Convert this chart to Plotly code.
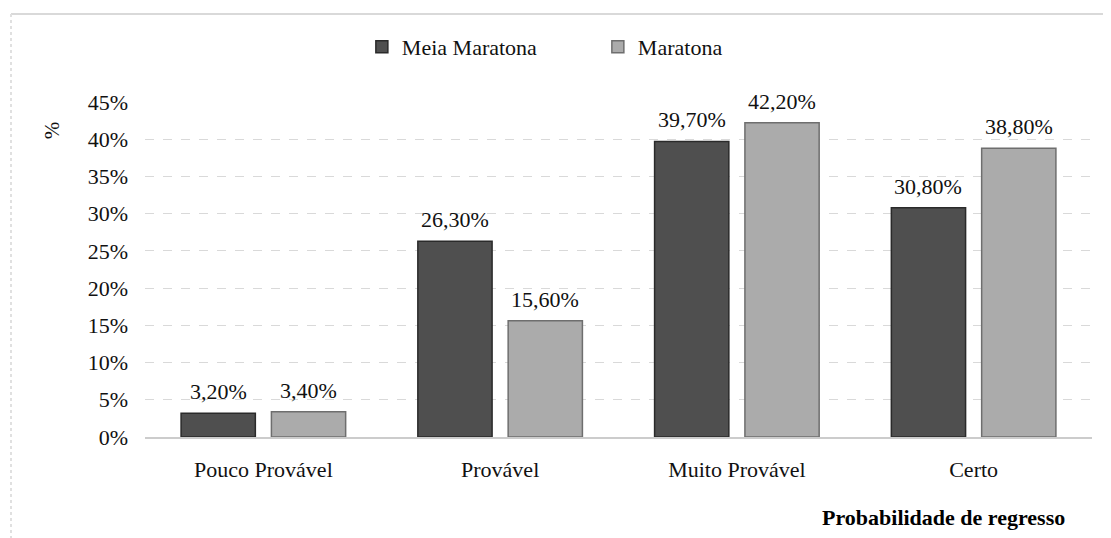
import plotly.graph_objects as go

categories = ["Pouco Provável", "Provável", "Muito Provável", "Certo"]
meia_maratona = [3.2, 26.3, 39.7, 30.8]
maratona = [3.4, 15.6, 42.2, 38.8]
series_names = ["Meia Maratona", "Maratona"]
y_ticks = [0, 5, 10, 15, 20, 25, 30, 35, 40, 45]
y_tick_labels = [f"{t}%" for t in y_ticks]

FONT = "Liberation Serif, Times New Roman, serif"
TXT = "#111111"

BARGAP = 0.237
BARGROUPGAP = 0.178


def fmt(v):
    return f"{v:.2f}%".replace(".", ",")


fig = go.Figure()
fig.add_trace(go.Bar(
    x=categories, y=meia_maratona, name=series_names[0],
    marker=dict(color="#4f4f4f", line=dict(color="#2a2a2a", width=1.5)),
))
fig.add_trace(go.Bar(
    x=categories, y=maratona, name=series_names[1],
    marker=dict(color="#ababab", line=dict(color="#6e6e6e", width=1.5)),
))

# value labels above bars (grouped offsets: half slot width in px)
plot_w = 1103 - 137 - 19
slot = plot_w / len(categories) * (1 - BARGAP) / 2
for series, sign in ((meia_maratona, -1), (maratona, 1)):
    for cat, v in zip(categories, series):
        fig.add_annotation(x=cat, y=v, text=fmt(v), showarrow=False,
                           xshift=sign * slot / 2, yanchor="bottom", yshift=7,
                           font=dict(family=FONT, size=22, color=TXT))

fig.update_layout(
    template="none",
    width=1103, height=530,
    margin=dict(l=137, r=19, t=94, b=101, autoexpand=False),
    paper_bgcolor="white", plot_bgcolor="white",
    barmode="group", bargap=BARGAP, bargroupgap=BARGROUPGAP,
    font=dict(family=FONT, size=22, color=TXT),
    legend=dict(orientation="h", x=0.229, xanchor="left", y=1.164, yanchor="middle",
                font=dict(family=FONT, size=22, color=TXT),
                itemwidth=30, entrywidth=191, entrywidthmode="pixels",
                traceorder="normal", bgcolor="rgba(0,0,0,0)"),
    showlegend=True,
)
fig.update_xaxes(
    showline=True, linecolor="#cccccc", linewidth=2,
    showgrid=False, ticks="", ticklabelstandoff=12,
    tickfont=dict(family=FONT, size=22, color=TXT),
)
fig.update_yaxes(
    range=[0, 45], tickvals=y_ticks, ticktext=y_tick_labels,
    showgrid=True, gridcolor="#d9d9d9", griddash="dash", gridwidth=1,
    zeroline=False, showline=False, ticks="", ticklabelstandoff=16,
    tickfont=dict(family=FONT, size=22, color=TXT),
)

fig.add_annotation(text="%", xref="paper", yref="paper", x=-0.098, y=0.916,
                   xanchor="center", yanchor="middle",
                   textangle=-90, showarrow=False,
                   font=dict(family=FONT, size=21, color=TXT))
fig.add_annotation(text="<b>Probabilidade de regresso</b>", xref="paper", yref="paper",
                   x=0.9736, y=-0.239, xanchor="right", yanchor="middle", showarrow=False,
                   font=dict(family=FONT, size=22, color="#000000"))

# chart frame
fig.add_shape(type="line", xref="paper", yref="paper", x0=-0.1415, x1=1.03, y0=1.2627, y1=1.2627,
              line=dict(color="#d9d9d9", width=2))
fig.add_shape(type="line", xref="paper", yref="paper", x0=-0.1415, x1=-0.1415, y0=1.2627, y1=-0.31,
              line=dict(color="#e0e0e0", width=2, dash="dot"))

fig.write_html("out.html")
